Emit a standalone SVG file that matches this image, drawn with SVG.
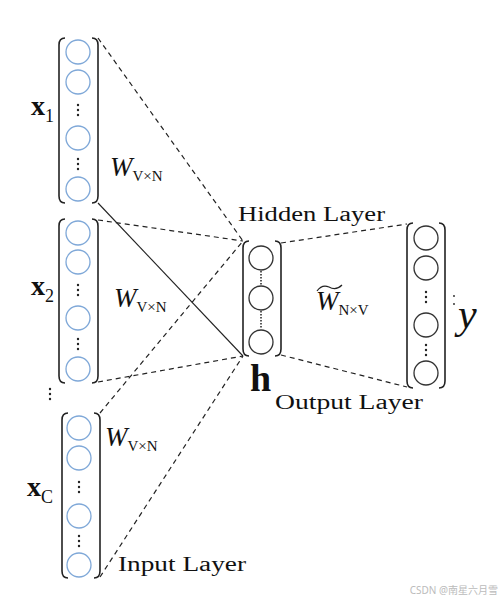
<svg xmlns="http://www.w3.org/2000/svg" width="501" height="602" viewBox="0 0 501 602">
<style>
.br{fill:none;stroke:#222;stroke-width:1.6}
.ci{fill:#fff;stroke:#7fa8d8;stroke-width:1.3}
.cg{fill:#fff;stroke:#333;stroke-width:1.3}
.dt{fill:#222}
.dash{fill:none;stroke:#222;stroke-width:1.2;stroke-dasharray:5,4}
.sol{fill:none;stroke:#222;stroke-width:1.1}
.lab{font-family:"Liberation Serif","DejaVu Serif",serif;fill:#111}
.it{font-style:italic}
</style>
<defs>
<g id="vd"><circle class="dt" cx="0" cy="-5" r="1.2"/><circle class="dt" cx="0" cy="0" r="1.2"/><circle class="dt" cx="0" cy="5" r="1.2"/></g>
</defs>
<rect width="501" height="602" fill="#fff"/>
<g id="connectors">
<line class="dash" x1="98" y1="38" x2="243" y2="241"/>
<line class="sol" x1="98" y1="203" x2="243" y2="356"/>
<line class="dash" x1="98" y1="220" x2="243" y2="241"/>
<line class="dash" x1="98" y1="382" x2="243" y2="356"/>
<line class="dash" x1="100" y1="413" x2="243" y2="241"/>
<line class="dash" x1="100" y1="577" x2="243" y2="356"/>
<line class="dash" x1="281" y1="243" x2="407" y2="224"/>
<line class="dash" x1="281" y1="355" x2="407" y2="387"/>
</g>
<g id="input1">
<path class="br" d="M65,38 Q59,38 59,45 L59,196 Q59,203 65,203"/>
<path class="br" d="M92,38 Q98,38 98,45 L98,196 Q98,203 92,203"/>
<circle class="ci" cx="78" cy="52" r="12"/>
<circle class="ci" cx="78" cy="82" r="12"/>
<use href="#vd" x="78" y="110"/>
<circle class="ci" cx="78" cy="138" r="12"/>
<use href="#vd" x="78" y="164"/>
<circle class="ci" cx="78" cy="189" r="12"/>
<text class="lab" x="31" y="115" font-size="28" font-weight="bold">x<tspan font-size="18" font-weight="normal" dy="7">1</tspan></text>
<text class="lab it" x="110" y="176" font-size="27">W<tspan class="lab" font-style="normal" font-size="15" dy="5">V×N</tspan></text>
</g>
<g id="input2">
<path class="br" d="M65,219 Q59,219 59,226 L59,376 Q59,383 65,383"/>
<path class="br" d="M92,219 Q98,219 98,226 L98,376 Q98,383 92,383"/>
<circle class="ci" cx="78" cy="233" r="12"/>
<circle class="ci" cx="78" cy="262" r="12"/>
<use href="#vd" x="78" y="290"/>
<circle class="ci" cx="78" cy="318" r="12"/>
<use href="#vd" x="78" y="344"/>
<circle class="ci" cx="78" cy="369" r="12"/>
<text class="lab" x="31" y="295" font-size="28" font-weight="bold">x<tspan font-size="18" font-weight="normal" dy="7">2</tspan></text>
<text class="lab it" x="114" y="307" font-size="27">W<tspan class="lab" font-style="normal" font-size="15" dy="5">V×N</tspan></text>
</g>
<use href="#vd" x="50" y="394"/>
<g id="inputC">
<path class="br" d="M68,413 Q62,413 62,420 L62,571 Q62,578 68,578"/>
<path class="br" d="M94,413 Q100,413 100,420 L100,571 Q100,578 94,578"/>
<circle class="ci" cx="79" cy="428" r="12"/>
<circle class="ci" cx="79" cy="458" r="12"/>
<use href="#vd" x="79" y="487"/>
<circle class="ci" cx="79" cy="516" r="12"/>
<use href="#vd" x="79" y="541"/>
<circle class="ci" cx="79" cy="565" r="12"/>
<text class="lab" x="27" y="496" font-size="28" font-weight="bold">x<tspan font-size="18" font-weight="normal" dy="7">C</tspan></text>
<text class="lab it" x="105" y="446" font-size="27">W<tspan class="lab" font-style="normal" font-size="15" dy="5">V×N</tspan></text>
<text class="lab" x="118" y="571" font-size="20" textLength="128" lengthAdjust="spacingAndGlyphs">Input Layer</text>
</g>
<g id="hidden">
<path class="br" d="M249,241 Q243,241 243,248 L243,349 Q243,356 249,356"/>
<path class="br" d="M275,241 Q281,241 281,248 L281,349 Q281,356 275,356"/>
<circle class="cg" cx="261" cy="258" r="12"/>
<line x1="261" y1="271" x2="261" y2="285" stroke="#222" stroke-width="1.5" stroke-dasharray="1.5,1.5"/>
<circle class="cg" cx="261" cy="298" r="12"/>
<line x1="261" y1="311" x2="261" y2="329" stroke="#222" stroke-width="1.5" stroke-dasharray="1.5,1.5"/>
<circle class="cg" cx="261" cy="342" r="12"/>
<text class="lab" x="238" y="221" font-size="20" textLength="147" lengthAdjust="spacingAndGlyphs">Hidden Layer</text>
<text class="lab" x="250" y="391" font-size="38" font-weight="bold">h</text>
</g>
<g id="output">
<path class="br" d="M413,223 Q407,223 407,230 L407,381 Q407,388 413,388"/>
<path class="br" d="M439,223 Q445,223 445,230 L445,381 Q445,388 439,388"/>
<circle class="cg" cx="426" cy="238" r="12"/>
<circle class="cg" cx="426" cy="268" r="12"/>
<use href="#vd" x="426" y="297"/>
<circle class="cg" cx="426" cy="325" r="12"/>
<use href="#vd" x="426" y="350"/>
<circle class="cg" cx="426" cy="373" r="12"/>
<text class="lab it" x="316" y="310" font-size="27">W<tspan class="lab" font-style="normal" font-size="15" dy="5">N×V</tspan></text>
<path d="M317,291 Q322,284 329,287 Q336,291 342,285" fill="none" stroke="#222" stroke-width="1.2"/>
<text class="lab" x="275" y="409" font-size="20" textLength="148" lengthAdjust="spacingAndGlyphs">Output Layer</text>
<circle class="dt" cx="454" cy="296" r="0.9"/>
<circle class="dt" cx="454" cy="304" r="0.9"/>
<text class="lab it" x="458" y="328" font-size="42">y</text>
</g>
<text x="498" y="594" text-anchor="end" font-family="'Noto Sans','Noto Sans CJK SC',sans-serif" font-size="10" fill="#bbb">CSDN @南星六月雪</text>
</svg>
